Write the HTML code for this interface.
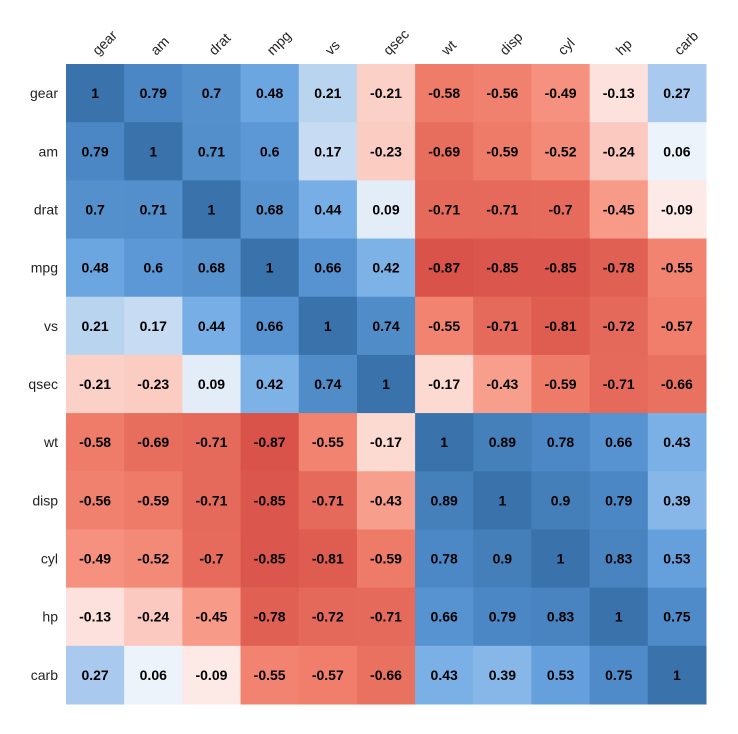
<!DOCTYPE html>
<html><head><meta charset="utf-8"><style>
html,body{margin:0;padding:0;background:#fff;}
svg{display:block;}
</style></head><body>
<svg id="s" width="738" height="734" xmlns="http://www.w3.org/2000/svg" font-family="Liberation Sans, Arial, sans-serif"></svg>
<script>
const labels=["gear","am","drat","mpg","vs","qsec","wt","disp","cyl","hp","carb"];
const M=[
[1,0.79,0.7,0.48,0.21,-0.21,-0.58,-0.56,-0.49,-0.13,0.27],
[0.79,1,0.71,0.6,0.17,-0.23,-0.69,-0.59,-0.52,-0.24,0.06],
[0.7,0.71,1,0.68,0.44,0.09,-0.71,-0.71,-0.7,-0.45,-0.09],
[0.48,0.6,0.68,1,0.66,0.42,-0.87,-0.85,-0.85,-0.78,-0.55],
[0.21,0.17,0.44,0.66,1,0.74,-0.55,-0.71,-0.81,-0.72,-0.57],
[-0.21,-0.23,0.09,0.42,0.74,1,-0.17,-0.43,-0.59,-0.71,-0.66],
[-0.58,-0.69,-0.71,-0.87,-0.55,-0.17,1,0.89,0.78,0.66,0.43],
[-0.56,-0.59,-0.71,-0.85,-0.71,-0.43,0.89,1,0.9,0.79,0.39],
[-0.49,-0.52,-0.7,-0.85,-0.81,-0.59,0.78,0.9,1,0.83,0.53],
[-0.13,-0.24,-0.45,-0.78,-0.72,-0.71,0.66,0.79,0.83,1,0.75],
[0.27,0.06,-0.09,-0.55,-0.57,-0.66,0.43,0.39,0.53,0.75,1]];
const stops=[
[-1,"#CC4340"],[-0.87,"#D9534A"],[-0.71,"#E66A5B"],[-0.58,"#EF7C69"],[-0.45,"#F79A87"],[-0.21,"#FBD0C7"],[-0.09,"#FDEAE6"],[0,"#F7F7F7"],
[0.06,"#ECF3FA"],[0.21,"#B9D4EF"],[0.27,"#A9CAEE"],[0.43,"#7AB0E6"],[0.48,"#6CA6E0"],[0.6,"#5C98D6"],[0.7,"#5490CC"],[0.79,"#4B87C4"],[0.89,"#4580BB"],[1,"#3A72AC"]];
function hx(h){return [1,3,5].map(i=>parseInt(h.substr(i,2),16));}
function col(v){for(let i=0;i<stops.length-1;i++){const[a,ca]=stops[i],[b,cb]=stops[i+1];if(v>=a&&v<=b){const t=(v-a)/(b-a||1);const A=hx(ca),B=hx(cb);return "rgb("+A.map((x,k)=>Math.round(x+(B[k]-x)*t)).join(",")+")";}}return stops[stops.length-1][1];}
const x0=66,y0=64,c=640/11;let h="";
for(let r=0;r<11;r++)for(let k=0;k<11;k++){const v=M[r][k];
h+=`<rect x="${x0+k*c}" y="${y0+r*c}" width="${c+0.5}" height="${c+0.5}" fill="${col(v)}"/>`;
h+=`<text x="${x0+(k+0.5)*c}" y="${y0+(r+0.5)*c+5}" text-anchor="middle" font-size="14" font-weight="bold" fill="#000">${v}</text>`;}
for(let i=0;i<11;i++){
h+=`<text x="58" y="${y0+(i+0.5)*c+5}" text-anchor="end" font-size="14" fill="#222">${labels[i]}</text>`;
const cx=x0+(i+0.5)*c+3;h+=`<text x="${cx}" y="56" transform="rotate(-45 ${cx} 56)" font-size="14" fill="#222">${labels[i]}</text>`;}
document.getElementById("s").innerHTML=h;
</script>
</body></html>
